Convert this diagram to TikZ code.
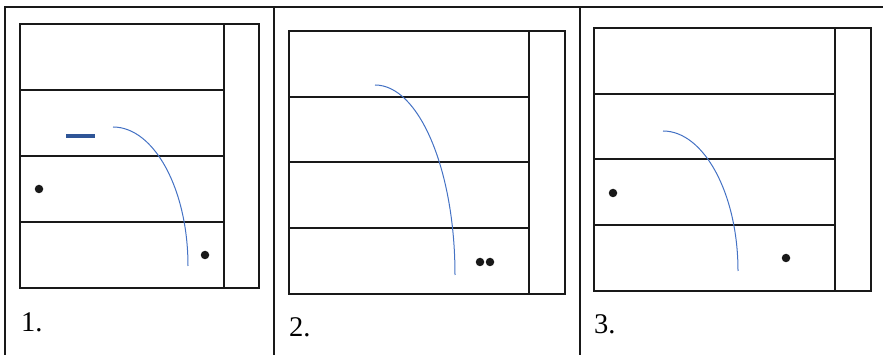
\documentclass[tikz,border=0pt]{standalone}
\usepackage{fontspec}
\setmainfont{Liberation Serif}
\definecolor{curveblue}{HTML}{4472C4}
\definecolor{dashblue}{HTML}{2F5597}
\begin{document}
\begin{tikzpicture}[x=1pt,y=-1pt,
  frame/.style={line width=2.5pt,draw=black!90},
  grid/.style={line width=2.5pt,draw=black!90},
  traj/.style={line width=1pt,draw=curveblue},
  ball/.style={circle,fill=black!90,inner sep=0pt,minimum size=8.5pt},
  lbl/.style={anchor=base west,inner sep=0pt,font=\fontsize{28.5}{30}\selectfont}]
\useasboundingbox (0,0) rectangle (883,355);
% outer table
\draw[frame] (5,355) -- (5,7) -- (883,7);
\draw[frame] (274,7) -- (274,355);
\draw[frame] (580,7) -- (580,355);
% panel 1
\draw[grid] (20,24) rectangle (259,288);
\draw[grid] (224,24) -- (224,288);
\foreach \y in {90,156,222} \draw[grid] (20,\y) -- (224,\y);
\draw[line width=4pt,draw=dashblue] (66,136) -- (95,136);
\draw[traj] (113,127) .. controls (154,127) and (188,189) .. (188,266);
\node[ball] (b1a) at (39,189) {};
\node[ball] (b1b) at (205,255) {};
\node[lbl] (l1) at (21,331) {1.};
% panel 2
\draw[grid] (289,31) rectangle (565,294);
\draw[grid] (529,31) -- (529,294);
\foreach \y in {97,162,228} \draw[grid] (289,\y) -- (529,\y);
\draw[traj] (375,85) .. controls (419,85) and (455,170) .. (455,275);
\node[ball] (b2a) at (480,262) {};
\node[ball] (b2b) at (490,262) {};
\node[lbl] (l2) at (289,336) {2.};
% panel 3
\draw[grid] (594,28) rectangle (871,291);
\draw[grid] (835,28) -- (835,291);
\foreach \y in {94,159,225} \draw[grid] (594,\y) -- (835,\y);
\draw[traj] (663,131) .. controls (704,131) and (738,194) .. (738,271);
\node[ball] (b3a) at (613,193) {};
\node[ball] (b3b) at (786,258) {};
\node[lbl] (l3) at (594,333) {3.};
\end{tikzpicture}
\end{document}
